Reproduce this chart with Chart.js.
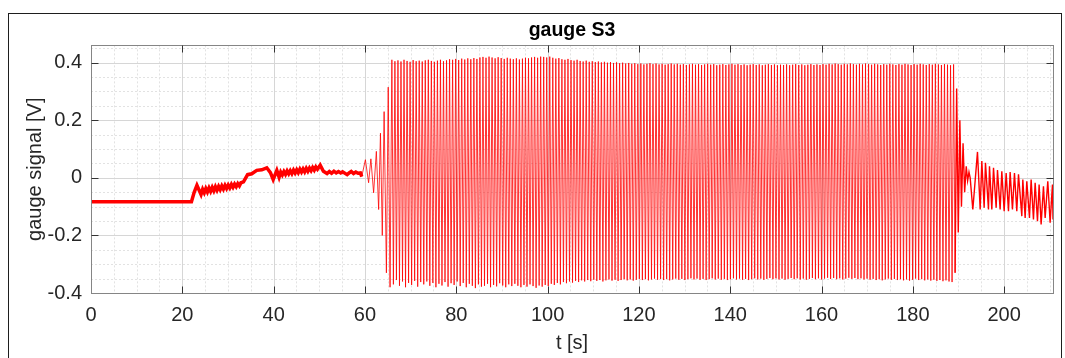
<!DOCTYPE html>
<html>
<head>
<meta charset="utf-8">
<script src="https://cdn.jsdelivr.net/npm/chart.js@4.4.1/dist/chart.umd.min.js"></script>
<style>
html, body { margin: 0; padding: 0; background: #fff; }
#wrap { position: relative; width: 1065px; height: 358px; overflow: hidden; }
#frame { position: absolute; left: 8px; top: 13px; width: 1054px; height: 400px; border: 1px solid #1e1e1e; box-sizing: border-box; }
#gaugeChart { position: absolute; left: 0; top: 0; }
</style>
</head>
<body>
<div id="wrap">
  <div id="frame"></div>
  <canvas id="gaugeChart" width="1065" height="358"></canvas>
</div>
<script>
// axis ticks
const xTickValues = [0, 20, 40, 60, 80, 100, 120, 140, 160, 180, 200];
const yTickValues = [-0.4, -0.2, 0, 0.2, 0.4];
const yTickLabels = ['-0.4', '-0.2', '0', '0.2', '0.4'];
const xMax = 210.7;
const yMin = -0.4;
const yMax = 0.46;

// quiet part before the shaking starts [t, V]
const quietSignal = [
  [0, -0.083], [22.0, -0.083], [22.6, -0.05], [23.2, -0.026], [24.1, -0.058], [24.45, -0.04],
  [24.8, -0.052], [25.15, -0.037], [25.5, -0.049], [25.85, -0.035], [26.2, -0.047], [26.55, -0.033],
  [26.9, -0.045], [27.25, -0.031], [27.6, -0.043], [27.95, -0.03], [28.3, -0.041], [28.65, -0.028],
  [29.0, -0.039], [29.35, -0.026], [29.7, -0.037], [30.05, -0.025], [30.4, -0.035], [30.75, -0.023],
  [31.1, -0.033], [31.45, -0.022], [31.8, -0.031], [32.15, -0.02], [32.5, -0.028], [32.85, -0.017],
  [33.4, -0.014], [34.3, 0.011], [35.2, 0.014], [36.3, 0.026], [37.4, 0.028], [38.5, 0.035],
  [39.3, 0.018], [39.9, -0.006], [40.7, 0.026], [41.2, 0.002], [41.55, 0.02], [41.9, 0.01],
  [42.25, 0.022], [42.6, 0.012], [42.95, 0.024], [43.3, 0.014], [43.65, 0.025], [44.0, 0.015],
  [44.35, 0.027], [44.7, 0.017], [45.05, 0.028], [45.4, 0.018], [45.75, 0.03], [46.1, 0.02],
  [46.45, 0.031], [46.8, 0.021], [47.15, 0.033], [47.5, 0.023], [47.85, 0.034], [48.2, 0.025],
  [48.55, 0.036], [48.9, 0.027], [49.25, 0.038], [49.6, 0.03], [50.2, 0.044], [50.9, 0.023],
  [51.7, 0.015], [52.2, 0.022], [52.7, 0.016], [53.2, 0.023], [53.7, 0.017], [54.2, 0.022],
  [54.7, 0.017], [55.1, 0.021], [56.1, 0.011], [56.6, 0.018], [57.0, 0.022], [57.5, 0.015],
  [58.0, 0.02], [58.5, 0.016], [59.0, 0.017], [59.3, 0.004]
];

// growing oscillation [t, V]
const rampSignal = [
  [59.3, 0.004], [60.1, 0.063], [60.8, -0.017], [61.3, 0.066], [61.9, -0.052], [62.5, 0.092],
  [63.0, -0.11], [63.4, 0.155], [63.8, -0.2], [64.2, 0.23], [64.7, -0.33], [65.1, 0.315], [65.5, -0.38]
];

// steady oscillation: one peak and one trough per cycle
const burstStart = 65.9;
const burstPeriod = 0.665;
const burstHigh = [
  .410, .405, .408, .404, .410, .406, .403, .409, .405, .407,
  .404, .408, .410, .406, .403, .407, .410, .405, .408, .412,
  .410, .413, .409, .414, .411, .415, .412, .416, .413, .418,
  .420, .417, .421, .418, .415, .419, .416, .413, .417, .414,
  .412, .415, .411, .414, .417, .415, .418, .420, .417, .421,
  .420, .418, .421, .417, .414, .416, .412, .410, .413, .409,
  .407, .410, .406, .404, .407, .403, .405, .402, .404, .401,
  .403, .400, .402, .399, .401, .398, .400, .397, .399, .396,
  .398, .395, .397, .394, .396, .398, .395, .397, .394, .396,
  .393, .395, .397, .394, .396, .393, .395, .392, .394, .396,
  .393, .395, .392, .394, .396, .393, .395, .391, .393, .395,
  .392, .394, .396, .393, .395, .392, .394, .391, .393, .395,
  .392, .394, .391, .393, .395, .392, .394, .391, .393, .392,
  .394, .391, .393, .395, .392, .394, .391, .393, .395, .392,
  .394, .392, .395, .393, .396, .394, .397, .395, .393, .396,
  .394, .397, .395, .393, .396, .394, .397, .395, .393, .396,
  .394, .392, .395, .393, .396, .394, .392, .395, .393, .396,
  .394, .392, .395, .393, .396, .394, .392, .395, .393, .396,
  .394, .392, .395, .393, .391, .394
];
const burstLow = [
  -.370, -.355, -.375, -.360, -.380, -.365, -.372, -.358, -.378, -.362,
  -.370, -.360, -.375, -.365, -.380, -.368, -.374, -.362, -.378, -.366,
  -.372, -.360, -.376, -.365, -.380, -.368, -.375, -.383, -.370, -.378,
  -.375, -.368, -.380, -.372, -.377, -.366, -.374, -.380, -.370, -.376,
  -.368, -.375, -.380, -.372, -.378, -.370, -.376, -.382, -.374, -.378,
  -.372, -.376, -.368, -.372, -.365, -.370, -.362, -.366, -.360, -.364,
  -.358, -.362, -.356, -.360, -.355, -.359, -.354, -.358, -.355, -.360,
  -.356, -.353, -.357, -.354, -.358, -.355, -.352, -.356, -.353, -.357,
  -.354, -.351, -.355, -.352, -.356, -.353, -.350, -.354, -.351, -.355,
  -.352, -.356, -.353, -.350, -.354, -.351, -.355, -.352, -.349, -.353,
  -.350, -.354, -.351, -.355, -.352, -.349, -.353, -.350, -.354, -.351,
  -.355, -.352, -.349, -.353, -.350, -.354, -.351, -.355, -.352, -.349,
  -.353, -.350, -.354, -.351, -.348, -.352, -.349, -.353, -.350, -.354,
  -.351, -.348, -.352, -.349, -.353, -.350, -.354, -.351, -.348, -.352,
  -.349, -.353, -.350, -.347, -.351, -.348, -.352, -.349, -.353, -.350,
  -.347, -.351, -.348, -.352, -.349, -.353, -.350, -.354, -.351, -.355,
  -.352, -.356, -.353, -.350, -.354, -.351, -.355, -.352, -.356, -.353,
  -.357, -.354, -.350, -.355, -.352, -.356, -.353, -.357, -.354, -.358,
  -.355, -.359, -.356, -.360, -.362, -.330
];

// decay and after-shake [t, V]
const tailSignal = [
  [189.6, 0.31], [189.95, -0.19], [190.3, 0.2], [190.65, -0.1], [191.0, 0.12], [191.35, -0.05],
  [191.7, 0.04], [192.0, -0.01], [192.3, 0.02], [192.56, 0.0], [193.14, -0.11], [194.16, 0.09],
  [194.75, -0.11], [195.11, 0.058], [195.62, -0.104], [195.91, 0.052], [196.57, -0.11], [196.79, 0.04],
  [197.3, -0.11], [197.67, 0.035], [198.25, -0.104], [198.54, 0.027], [199.12, -0.11], [199.49, 0.023],
  [200.0, -0.116], [200.44, 0.017], [200.95, -0.116], [201.31, 0.02], [201.82, -0.11], [202.26, 0.017],
  [202.77, -0.116], [203.14, 0.012], [203.87, -0.133], [204.09, -0.006], [204.6, -0.139], [204.96, -0.012],
  [205.55, -0.139], [205.91, -0.006], [206.42, -0.145], [206.79, -0.017], [207.3, -0.151], [207.66, -0.023],
  [208.1, -0.162], [208.61, -0.029], [208.98, -0.139], [209.56, -0.012], [210.07, -0.156], [210.58, -0.023],
  [210.7, -0.145]
];

const toPts = arr => arr.map(p => ({ x: p[0], y: p[1] }));

// ramp + steady part as one thin trace
const burstPts = toPts(rampSignal);
burstHigh.forEach((v, i) => {
  const t = burstStart + i * burstPeriod;
  burstPts.push({ x: t, y: v });
  burstPts.push({ x: t + burstPeriod / 2, y: burstLow[i] });
});
const lastBurst = burstPts[burstPts.length - 1];
const tailPts = [lastBurst].concat(toPts(tailSignal));

const textColor = '#262626';
Chart.defaults.font.family = '"Liberation Sans", Arial, Helvetica, sans-serif';
Chart.defaults.color = textColor;

// MATLAB-like grid, box and inward ticks
const matlabAxes = {
  id: 'matlabAxes',
  beforeDatasetsDraw(chart) {
    const { ctx, chartArea: a, scales: { x, y } } = chart;
    const px = v => Math.round(x.getPixelForValue(v)) + 0.5;
    const py = v => Math.round(y.getPixelForValue(v)) + 0.5;
    ctx.save();
    ctx.lineWidth = 1;

    // minor grid, every 5 s and 0.05 V
    ctx.strokeStyle = '#e2e2e2';
    ctx.setLineDash([2, 2]);
    ctx.beginPath();
    for (let t = 5; t < xMax; t += 5) {
      if (t % 20 === 0) continue;
      ctx.moveTo(px(t), a.top); ctx.lineTo(px(t), a.bottom);
    }
    for (let k = -7; k <= 9; k++) {
      if (k % 4 === 0) continue;
      const v = k * 0.05;
      ctx.moveTo(a.left, py(v)); ctx.lineTo(a.right, py(v));
    }
    ctx.stroke();

    // major grid
    ctx.setLineDash([]);
    ctx.strokeStyle = '#d6d6d6';
    ctx.beginPath();
    xTickValues.forEach(t => { ctx.moveTo(px(t), a.top); ctx.lineTo(px(t), a.bottom); });
    yTickValues.forEach(v => { ctx.moveTo(a.left, py(v)); ctx.lineTo(a.right, py(v)); });
    ctx.stroke();
    ctx.restore();
  },
  afterDatasetsDraw(chart) {
    const { ctx, chartArea: a, scales: { x, y } } = chart;
    const px = v => Math.round(x.getPixelForValue(v)) + 0.5;
    const py = v => Math.round(y.getPixelForValue(v)) + 0.5;
    const L = Math.round(a.left) + 0.5, R = Math.round(a.right) + 0.5;
    const T = Math.round(a.top) + 0.5, B = Math.round(a.bottom) + 0.5;
    ctx.save();
    ctx.lineWidth = 1;
    ctx.strokeStyle = '#858585';
    ctx.strokeRect(L, T, R - L, B - T);

    const tl = 7;
    ctx.strokeStyle = '#333';
    ctx.beginPath();
    xTickValues.forEach(t => {
      if (t === 0) return;
      ctx.moveTo(px(t), B); ctx.lineTo(px(t), B - tl);
      ctx.moveTo(px(t), T); ctx.lineTo(px(t), T + tl);
    });
    yTickValues.forEach(v => {
      if (v === yMin) return;
      ctx.moveTo(L, py(v)); ctx.lineTo(L + tl, py(v));
      ctx.moveTo(R, py(v)); ctx.lineTo(R - tl, py(v));
    });
    ctx.stroke();
    ctx.restore();
  }
};

const ctx = document.getElementById('gaugeChart').getContext('2d');
new Chart(ctx, {
  type: 'line',
  data: {
    datasets: [{
      data: toPts(quietSignal),
      borderColor: '#ff0000',
      borderWidth: 3.5,
      pointRadius: 0,
      tension: 0
    }, {
      data: burstPts,
      borderColor: '#ff0000',
      borderWidth: 0.8,
      pointRadius: 0,
      tension: 0
    }, {
      data: tailPts,
      borderColor: '#ff0000',
      borderWidth: 1.4,
      pointRadius: 0,
      tension: 0
    }]
  },
  options: {
    responsive: false,
    animation: false,
    layout: { padding: { left: 0, right: 12, top: 0, bottom: 0 } },
    plugins: {
      legend: { display: false },
      tooltip: { enabled: false },
      title: {
        display: true,
        text: 'gauge S3',
        fullSize: false,
        color: '#000',
        font: { size: 19.5, weight: 'bold' },
        padding: { top: 19, bottom: 3 }
      }
    },
    scales: {
      x: {
        type: 'linear',
        min: 0,
        max: xMax,
        grid: { display: false, drawTicks: false },
        border: { display: false },
        ticks: { font: { size: 20 }, color: textColor, padding: 10, maxRotation: 0 },
        title: { display: true, text: 't [s]', font: { size: 20 }, color: textColor, padding: { top: 0, bottom: 3 } },
        afterBuildTicks: s => { s.ticks = xTickValues.map(v => ({ value: v })); },
        afterFit: s => { s.height = 65; }
      },
      y: {
        type: 'linear',
        min: yMin,
        max: yMax,
        grid: { display: false, drawTicks: false },
        border: { display: false },
        ticks: {
          font: { size: 20 },
          color: textColor,
          padding: 9,
          callback: (v, i) => yTickLabels[i]
        },
        title: { display: true, text: 'gauge signal [V]', font: { size: 20 }, color: textColor, padding: { top: 23, bottom: 0 } },
        afterBuildTicks: s => { s.ticks = yTickValues.map(v => ({ value: v })); },
        afterFit: s => { s.width = 91; }
      }
    }
  },
  plugins: [matlabAxes]
});
</script>
</body>
</html>
